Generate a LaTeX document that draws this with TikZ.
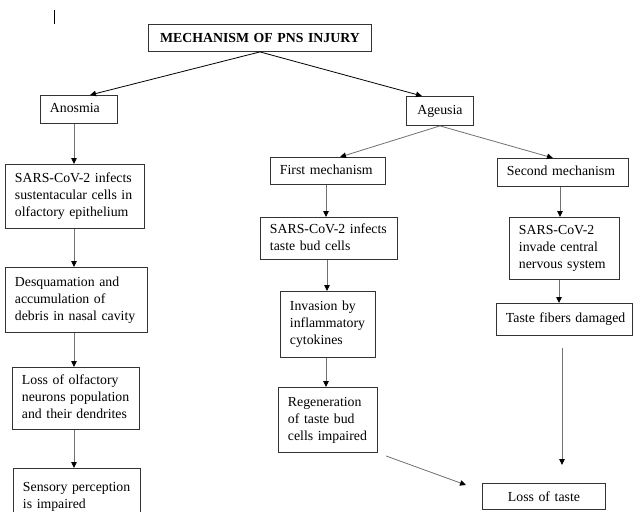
\documentclass[tikz,border=0pt]{standalone}
\usepackage{fontspec}
\setmainfont{Liberation Serif}
\usetikzlibrary{arrows.meta,calc}
\definecolor{boxc}{HTML}{333333}
\definecolor{linec}{HTML}{707070}
\newcommand{\tb}[1]{\begin{tabular}{@{}l@{}}#1\end{tabular}}
\tikzset{
  bx/.style={draw=boxc, line width=0.9pt, anchor=north west, inner xsep=9.5pt, inner ysep=0pt,
    align=left, font=\fontsize{13.8}{17}\selectfont},
  cbx/.style={bx, align=center},
  sz/.style 2 args={minimum width=#1pt, minimum height=#2pt, text width=#1pt-19pt},
  arr/.style={draw=linec, line width=0.8pt, -{Triangle[length=6pt,width=5.5pt,color=black]}},
  darr/.style={arr, draw=black},
}
\begin{document}
\begin{tikzpicture}[x=1pt,y=-1pt]
\useasboundingbox (0,0) rectangle (633,512);
% cursor mark
\draw[line width=0.8pt] (54,10) -- (54,24);
% boxes
\node[cbx, sz={223}{27}, font=\fontsize{13.8}{17}\selectfont\bfseries] (title) at (148,24) {MECHANISM OF PNS INJURY};
\node[bx, sz={77}{28}] (anosmia) at (40,95) {\tb{Anosmia}};
\node[bx, sz={139}{64}] (a1) at (5,164) {\tb{SARS-CoV-2 infects\\sustentacular cells in\\olfactory epithelium}};
\node[bx, sz={142}{65}] (a2) at (5,267) {\tb{Desquamation and\\accumulation of\\debris in nasal cavity}};
\node[bx, sz={127}{62}] (a3) at (12,367) {\tb{Loss of olfactory\\neurons population\\and their dendrites}};
\node[bx, sz={127}{74}] (a4) at (13,468) {\tb{Sensory perception\\is impaired\\\phantom{x}}};
\node[cbx, sz={67}{29}] (ageusia) at (406,96) {Ageusia};
\node[bx, sz={115}{27}] (first) at (270,157) {\tb{First mechanism}};
\node[bx, sz={131}{28}] (second) at (497,158) {\tb{Second mechanism}};
\node[bx, sz={137}{42}] (sarsT) at (260,217) {\tb{SARS-CoV-2 infects\\taste bud cells}};
\node[bx, sz={95}{66}] (inv) at (280,291) {\tb{Invasion by\\inflammatory\\cytokines}};
\node[bx, sz={99}{65}] (regen) at (278,387) {\tb{Regeneration\\of taste bud\\cells impaired}};
\node[bx, sz={110}{62}] (sarsC) at (509,217) {\tb{SARS-CoV-2\\invade central\\nervous system}};
\node[bx, sz={136}{32}] (fibers) at (496,303) {\tb{Taste fibers damaged}};
\node[cbx, sz={123}{26}] (loss) at (482,483) {Loss of taste};
% connectors
\draw[darr] (title.south) -- ($(anosmia.north west)+(50,0)$);
\draw[darr] (title.south) -- ($(ageusia.north west)+(16,0)$);
\draw[arr] (ageusia.south) -- ($(first.north west)+(70,0)$);
\draw[arr] (ageusia.south) -- ($(second.north west)+(56,0)$);
\draw[arr] ($(a1.north west)+(69,0)$) coordinate (c1) (c1 |- anosmia.south) -- (c1);
\draw[arr] (c1 |- a1.south) -- (c1 |- a2.north);
\draw[arr] (c1 |- a2.south) -- (c1 |- a3.north);
\draw[arr] (c1 |- a3.south) -- (c1 |- a4.north);
\draw[arr] ($(first.south west)+(56,0)$) coordinate (c2) -- (c2 |- sarsT.north);
\draw[arr] ($(sarsT.south west)+(67,0)$) coordinate (c3) -- (c3 |- inv.north);
\draw[arr] ($(inv.south west)+(46,0)$) coordinate (c4) -- (c4 |- regen.north);
\draw[arr] ($(sarsC.north west)+(51,0)$) coordinate (c5) (c5 |- second.south) -- (c5);
\draw[arr] ($(sarsC.south west)+(50,0)$) coordinate (c6) -- (c6 |- fibers.north);
\draw[arr] ($(regen.south east)+(8,3)$) -- ($(loss.north west)+(-16,2)$);
\draw[arr] ($(fibers.south west)+(66,12)$) coordinate (c7) -- ($(c7 |- loss.north)+(0,-18)$);
\end{tikzpicture}
\end{document}
